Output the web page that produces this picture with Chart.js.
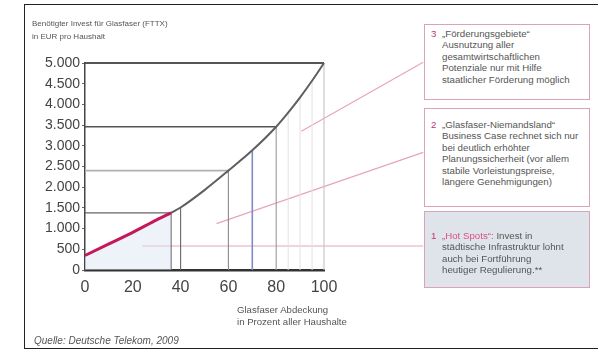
<!DOCTYPE html>
<html lang="de">
<head>
<meta charset="utf-8">
<title>Invest für Glasfaser pro Haushalt</title>
<script src="https://cdn.jsdelivr.net/npm/chart.js@4.4.1/dist/chart.umd.min.js"></script>
<style>
  html, body { margin: 0; padding: 0; background: #fff; }
  body { width: 598px; height: 353px; position: relative; overflow: hidden; font-family: "Liberation Sans", Arial, sans-serif; }
  #frame { position: absolute; left: 24px; top: 4px; width: 600px; height: 345px; border: 1.5px solid #222; box-sizing: border-box; }
  #wrap { position: absolute; left: 0; top: 0; width: 598px; height: 353px; }
  .t { position: absolute; color: #555; font-size: 8px; line-height: 12px; white-space: nowrap; }
  .box { position: absolute; left: 424px; width: 166px; border: 1.5px solid #dca3b8; box-sizing: border-box; background: #fff; }
  .box .ln { position: absolute; left: 17px; font-size: 9.7px; line-height: 12px; color: #555; white-space: nowrap; }
  .box .num { position: absolute; left: 6px; font-size: 9.7px; line-height: 12px; color: #c0386c; }
  .pink { color: #dc4f85; }
</style>
</head>
<body>
<div id="frame"></div>
<div id="wrap"><canvas id="c" width="598" height="353"></canvas></div>

<div class="t" style="left:32px; top:18px;">Benötigter Invest für Glasfaser (FTTX)</div>
<div class="t" style="left:32px; top:31px;">in EUR pro Haushalt</div>
<div class="t" style="left:237px; top:304px; font-size:9.6px;">Glasfaser Abdeckung</div>
<div class="t" style="left:237px; top:316px; font-size:9.6px;">in Prozent aller Haushalte</div>
<div class="t" style="left:34px; top:335px; font-size:10px; font-style:italic;">Quelle: Deutsche Telekom, 2009</div>

<div class="box" style="top:24px; height:76px;">
  <span class="num" style="top:2.5px;">3</span>
  <span class="ln pink" style="top:2.5px;">„Förderungsgebiete“</span>
  <span class="ln" style="top:14px;">Ausnutzung aller</span>
  <span class="ln" style="top:25.5px;">gesamtwirtschaftlichen</span>
  <span class="ln" style="top:37px;">Potenziale nur mit Hilfe</span>
  <span class="ln" style="top:48.5px;">staatlicher Förderung möglich</span>
</div>
<div class="box" style="top:108px; height:99px;">
  <span class="num" style="top:9.5px;">2</span>
  <span class="ln pink" style="top:9.5px;">„Glasfaser-Niemandsland“</span>
  <span class="ln" style="top:21px;">Business Case rechnet sich nur</span>
  <span class="ln" style="top:32.5px;">bei deutlich erhöhter</span>
  <span class="ln" style="top:44px;">Planungssicherheit (vor allem</span>
  <span class="ln" style="top:55.5px;">stabile Vorleistungspreise,</span>
  <span class="ln" style="top:67px;">längere Genehmigungen)</span>
</div>
<div class="box" style="top:211px; height:77px; background:#dfe4ea;">
  <span class="num" style="top:17.5px;">1</span>
  <span class="ln" style="top:17.5px;"><span class="pink">„Hot Spots“:</span> Invest in</span>
  <span class="ln" style="top:29px;">städtische Infrastruktur lohnt</span>
  <span class="ln" style="top:40.5px;">auch bei Fortführung</span>
  <span class="ln" style="top:52px;">heutiger Regulierung.**</span>
</div>

<script>
// Abdeckung in % der Haushalte und benötigter Invest in EUR pro Haushalt
const coverage = [0, 10, 20, 30, 36, 40, 50, 60, 70, 80, 85, 90, 95, 100];
const investPerHome = [350, 630, 910, 1210, 1380, 1510, 1930, 2400, 2890, 3460, 3800, 4170, 4570, 5000];

// Grenze der "Hot Spots" (roter Abschnitt der Kurve)
const hotSpotLimit = 36;

// Hilfslinien: senkrecht bis zur Kurve, waagerecht von der Achse zur Kurve
const verticalGuides = [36, 40, 60, 70, 80, 100];
const faintGuides = [85, 90, 95];
const horizontalGuides = [36, 60, 80, 100];

// Verbindungslinien zu den Textfeldern (x in %, y in EUR)
const linkHotSpots = [[24, 580], [141.5, 580]];
const linkNiemandsland = [[55, 1120], [141.5, 2840]];
const linkFoerderung = [[90.5, 3350], [141.5, 5020]];

// Achsenbeschriftung
const yTickValues = [0, 500, 1000, 1500, 2000, 2500, 3000, 3500, 4000, 4500, 5000];
const yTickLabels = ['0', '500', '1.000', '1.500', '2.000', '2.500', '3.000', '3.500', '4.000', '4.500', '5.000'];
const xTickValues = [0, 20, 40, 60, 80, 100];
const xTickLabels = ['0', '20', '40', '60', '80', '100'];

const valueAt = x => investPerHome[coverage.indexOf(x)];
const pts = (xs, ys) => xs.map((x, i) => ({ x, y: ys[i] }));

const hotIdx = coverage.indexOf(hotSpotLimit);
const redPart = pts(coverage.slice(0, hotIdx + 1), investPerHome.slice(0, hotIdx + 1));
const greyPart = pts(coverage.slice(hotIdx), investPerHome.slice(hotIdx));

function segment(data, color, width) {
  return { data, borderColor: color, borderWidth: width, pointRadius: 0, showLine: true, fill: false, clip: false, tension: 0, order: 5 };
}

const vColors = { 36: '#555', 40: '#666', 60: '#8a8a8a', 70: '#7f8cc4', 80: '#9a9a9a', 100: '#c4c4c4' };
const hColors = { 36: '#666', 60: '#b0b0b0', 80: '#555', 100: '#555' };
const hWidths = { 36: 1.2, 60: 1.6, 80: 1.5, 100: 2 };

const datasets = [];
faintGuides.forEach(x => datasets.push(segment([{ x, y: 0 }, { x, y: valueAt(x) }], '#e2e2e2', 1)));
verticalGuides.forEach(x => datasets.push(segment([{ x, y: 0 }, { x, y: valueAt(x) }], vColors[x], x === 70 ? 1.6 : 1.1)));
horizontalGuides.forEach(x => datasets.push(segment([{ x: 0, y: valueAt(x) }, { x, y: valueAt(x) }], hColors[x], hWidths[x])));

const pink = '#e8a4bd';
[linkHotSpots, linkNiemandsland, linkFoerderung].forEach(l =>
  datasets.push(segment(l.map(p => ({ x: p[0], y: p[1] })), pink, 1.2)));

// Kurve: grauer Teil und roter "Hot Spots"-Abschnitt mit Flächentönung
datasets.push({ data: greyPart, borderColor: '#5f5f5f', borderWidth: 2, pointRadius: 0, showLine: true,
  cubicInterpolationMode: 'monotone', clip: false, order: 1 });
datasets.push({ data: redPart, borderColor: '#c4185a', borderWidth: 3, pointRadius: 0, showLine: true,
  cubicInterpolationMode: 'monotone', clip: false, fill: 'origin', backgroundColor: 'rgba(214,228,242,0.45)', order: 0 });

const sans = "'Liberation Sans', Arial, sans-serif";

new Chart(document.getElementById('c'), {
  type: 'scatter',
  data: { datasets },
  options: {
    responsive: false,
    animation: false,
    events: [],
    layout: { padding: { left: 0, top: 63, right: 274, bottom: 0 } },
    plugins: { legend: { display: false }, tooltip: { enabled: false }, title: { display: false } },
    scales: {
      x: {
        type: 'linear', min: 0, max: 100, position: 'bottom',
        afterBuildTicks: s => { s.ticks = xTickValues.map(v => ({ value: v })); },
        afterFit: s => { s.height = 83; },
        grid: { display: true, drawOnChartArea: false, drawTicks: false },
        border: { display: true, color: '#333', width: 2.5 },
        ticks: {
          autoSkip: false, maxRotation: 0, padding: 8, color: '#444', font: { family: sans, size: 16 },
          callback: v => xTickLabels[xTickValues.indexOf(v)]
        }
      },
      y: {
        type: 'linear', min: 0, max: 5000,
        afterBuildTicks: s => { s.ticks = yTickValues.map(v => ({ value: v })); },
        afterFit: s => { s.width = 85; },
        grid: { display: true, drawOnChartArea: false, drawTicks: true, tickLength: 3, color: '#666' },
        border: { display: true, color: '#444', width: 1.5 },
        ticks: {
          autoSkip: false, padding: 2, color: '#444', font: { family: sans, size: 14 },
          callback: v => yTickLabels[yTickValues.indexOf(v)]
        }
      }
    }
  }
});
</script>
</body>
</html>
